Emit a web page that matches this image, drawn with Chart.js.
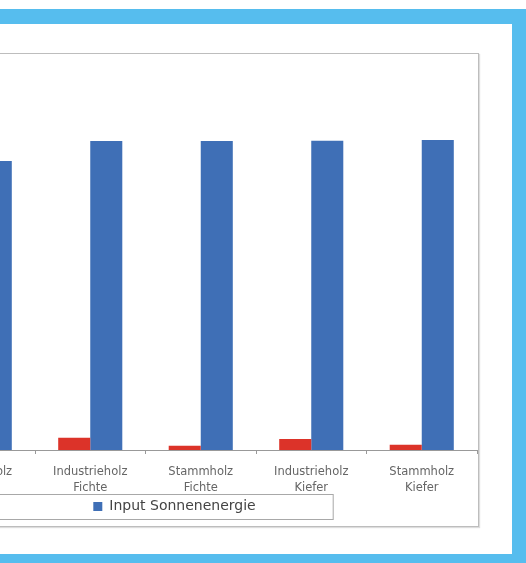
<!DOCTYPE html>
<html>
<head>
<meta charset="utf-8">
<script src="https://cdn.jsdelivr.net/npm/chart.js@4/dist/chart.umd.min.js"></script>
<style>
    html, body { margin: 0; padding: 0; background: #fff; overflow: hidden; }
    body { width: 526px; height: 563px; position: relative; }
    #frame {
        position: absolute; left: -60px; top: 9px; right: 0; bottom: 0;
        border-top: 15px solid #56bdee; border-right: 14px solid #56bdee;
        border-bottom: 9px solid #56bdee; border-left: 15px solid #56bdee;
        box-sizing: border-box;
    }
    #plotBorder {
        position: absolute; left: -10px; top: 53px; width: 489px; height: 474px;
        border: 1px solid #bdbdbd; box-shadow: 1px 1px 1px #ddd; box-sizing: border-box;
    }
    #wrap { position: absolute; left: -203px; top: 0; width: 729px; height: 563px; }
</style>
</head>
<body>
<div id="frame"></div>
<div id="plotBorder"></div>
<div id="wrap"><canvas id="chart"></canvas></div>
<script>
// categories (first one is cut off at the left edge of the picture)
const categories = [
    ['Stammholz', 'Buche'],
    ['Industrieholz', 'Fichte'],
    ['Stammholz', 'Fichte'],
    ['Industrieholz', 'Kiefer'],
    ['Stammholz', 'Kiefer']
];

// relative values (no y axis visible)
const outputHolz = [1.2, 3.15, 1.1, 2.8, 1.35];
const inputSonnenenergie = [74.1, 79.2, 79.2, 79.3, 79.5];

const seriesNames = ['Energieinhalt Holz', 'Input Sonnenenergie'];

const legendFrame = {
    id: 'legendFrame',
    afterDraw(chart) {
        const legend = chart.legend;
        if (!legend || !legend.legendHitBoxes.length) {
            return;
        }
        const box = legend.legendHitBoxes[0];
        const ctx = chart.ctx;
        const cy = box.top + box.height / 2;
        ctx.save();
        ctx.strokeStyle = '#a8a8a8';
        ctx.lineWidth = 1;
        ctx.strokeRect(0.5, Math.round(cy - 13) + 0.5, box.left + box.width + 77, 25);
        ctx.restore();
    }
};

new Chart(document.getElementById('chart'), {
    type: 'bar',
    data: {
        labels: categories,
        datasets: [
            {
                label: seriesNames[0],
                data: outputHolz,
                backgroundColor: '#dc3329'
            },
            {
                label: seriesNames[1],
                data: inputSonnenenergie,
                backgroundColor: '#3f6fb6'
            }
        ]
    },
    options: {
        responsive: true,
        maintainAspectRatio: false,
        animation: false,
        datasets: {
            bar: {
                categoryPercentage: 0.58,
                barPercentage: 1.0
            }
        },
        layout: {
            padding: { top: 60, left: 75, right: 49, bottom: 39.5 }
        },
        plugins: {
            tooltip: { enabled: false },
            legend: {
                position: 'bottom',
                labels: {
                    filter: item => item.datasetIndex === 1,
                    boxWidth: 9,
                    boxHeight: 9,
                    padding: 2,
                    color: '#444',
                    font: { family: 'DejaVu Sans', size: 14 }
                }
            }
        },
        scales: {
            x: {
                grid: {
                    offset: true,
                    drawOnChartArea: false,
                    drawTicks: true,
                    tickLength: 4,
                    color: '#999'
                },
                border: { color: '#999' },
                ticks: {
                    color: '#666',
                    padding: 10.5,
                    maxRotation: 0,
                    autoSkip: false,
                    font: { family: 'DejaVu Sans', size: 11.5, lineHeight: 16 / 11.5 }
                },
                afterFit: s => { s.height = 47.5; }
            },
            y: {
                min: 0,
                max: 100,
                grid: { display: false },
                border: { display: false },
                ticks: { display: false },
                afterFit: s => { s.width = 52.5; }
            }
        }
    },
    plugins: [legendFrame]
});
</script>
</body>
</html>
